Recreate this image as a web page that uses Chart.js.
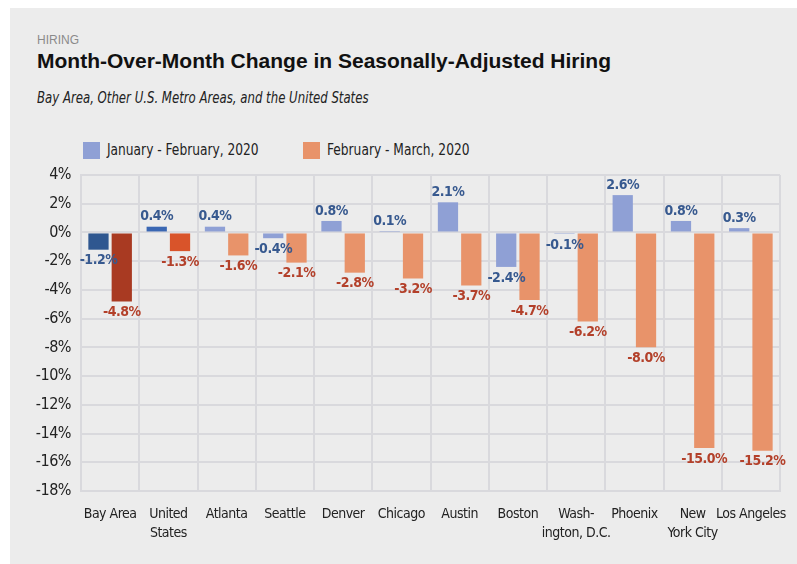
<!DOCTYPE html>
<html>
<head>
<meta charset="utf-8">
<script src="https://cdn.jsdelivr.net/npm/chart.js@4"></script>
<style>
  body { margin: 0; background: #fff; width: 797px; height: 564px; overflow: hidden; }
  #panel { position: absolute; left: 10px; top: 8px; width: 787px; height: 556px; background: #ececec; }
  .txt { position: absolute; white-space: nowrap; transform-origin: left top; }
  #kicker { left: 27px; top: 25px; font: 12px "Liberation Sans", sans-serif; color: #8a8a8a; }
  #title { left: 27px; top: 41px; font: bold 21px "Liberation Sans", sans-serif; color: #111; }
  #subtitle { left: 27px; top: 80px; font: italic 16px "DejaVu Sans Condensed", sans-serif; color: #222; transform: scaleX(0.815); }
  .key { position: absolute; top: 134px; width: 17px; height: 17px; }
  .keytxt { top: 132px; font: 16px "DejaVu Sans Condensed", sans-serif; color: #222; transform: scaleX(0.85); }
  #chartBox { position: absolute; left: 0; top: 157px; width: 787px; height: 390px; }
</style>
</head>
<body>
<div id="panel">
  <div class="txt" id="kicker">HIRING</div>
  <div class="txt" id="title">Month-Over-Month Change in Seasonally-Adjusted Hiring</div>
  <div class="txt" id="subtitle">Bay Area, Other U.S. Metro Areas, and the United States</div>
  <div class="key" style="left:73px;background:#8fa0d5"></div>
  <div class="txt keytxt" style="left:97px">January - February, 2020</div>
  <div class="key" style="left:293px;background:#e8936a"></div>
  <div class="txt keytxt" style="left:317px">February - March, 2020</div>
  <div id="chartBox"><canvas id="myChart"></canvas></div>
</div>
<script>
const categories = ['Bay Area', ['United', 'States'], 'Atlanta', 'Seattle', 'Denver', 'Chicago', 'Austin',
  'Boston', ['Wash-', 'ington, D.C.'], 'Phoenix', ['New', 'York City'], 'Los Angeles'];
const janFeb = [-1.2, 0.4, 0.4, -0.4, 0.8, 0.1, 2.1, -2.4, -0.1, 2.6, 0.8, 0.3];
const febMar = [-4.8, -1.3, -1.6, -2.1, -2.8, -3.2, -3.7, -4.7, -6.2, -8.0, -15.0, -15.2];
const seriesNames = ['January - February, 2020', 'February - March, 2020'];

const blueColors = ['#2f5790', '#3a67b3'].concat(Array(10).fill('#8fa0d5'));
const orangeColors = ['#a93a22', '#d9542a'].concat(Array(10).fill('#e8936a'));

const condensed = '"DejaVu Sans Condensed", sans-serif';

// tighten canvas text a bit, the original uses a condensed face
const tightText = {
  id: 'tightText',
  beforeUpdate(chart) { chart.ctx.letterSpacing = '-0.5px'; },
  beforeDraw(chart) { chart.ctx.letterSpacing = '-0.5px'; }
};

const valueLabels = {
  id: 'valueLabels',
  afterDatasetsDraw(chart) {
    const ctx = chart.ctx;
    ctx.save();
    ctx.font = 'bold 14px ' + condensed;
    ctx.textAlign = 'center';
    chart.data.datasets.forEach((ds, i) => {
      const meta = chart.getDatasetMeta(i);
      ctx.fillStyle = i == 0 ? '#37598f' : '#b3402a';
      meta.data.forEach((bar, j) => {
        const v = ds.data[j];
        const text = v.toFixed(1) + '%';
        if (v >= 0) {
          ctx.textBaseline = 'bottom';
          ctx.fillText(text, bar.x, bar.y - 3);
        } else {
          ctx.textBaseline = 'top';
          ctx.fillText(text, bar.x, bar.y + 4);
        }
      });
    });
    ctx.restore();
  }
};

const myChartElement = document.getElementById('myChart');

new Chart(myChartElement, {
  type: 'bar',
  data: {
    labels: categories,
    datasets: [
      { label: seriesNames[0], data: janFeb, backgroundColor: blueColors, categoryPercentage: 0.8, barPercentage: 0.87 },
      { label: seriesNames[1], data: febMar, backgroundColor: orangeColors, categoryPercentage: 0.8, barPercentage: 0.87 }
    ]
  },
  options: {
    maintainAspectRatio: false,
    responsive: true,
    animation: false,
    layout: { padding: { top: 10, right: 17, left: 0, bottom: 0 } },
    plugins: {
      legend: { display: false },
      tooltip: { enabled: false }
    },
    scales: {
      y: {
        min: -18,
        max: 4,
        ticks: {
          stepSize: 2,
          padding: 10,
          color: '#222',
          font: { family: condensed, size: 16 },
          callback: v => v + '%'
        },
        grid: { color: '#d9d9dd', lineWidth: 2, drawTicks: false },
        border: { color: '#d9d9dd', width: 2 },
        afterFit: scale => { scale.width = 71; scale.paddingTop = 0; scale.paddingBottom = 0; }
      },
      x: {
        ticks: {
          padding: 14,
          color: '#222',
          maxRotation: 0,
          autoSkip: false,
          font: { family: condensed, size: 14, lineHeight: 1.35 }
        },
        grid: { color: '#d9d9dd', lineWidth: 2, drawTicks: false },
        border: { color: '#d9d9dd', width: 2 },
        afterFit: scale => { scale.height = 64; scale.paddingLeft = 0; scale.paddingRight = 0; }
      }
    }
  },
  plugins: [tightText, valueLabels]
});
</script>
</body>
</html>
